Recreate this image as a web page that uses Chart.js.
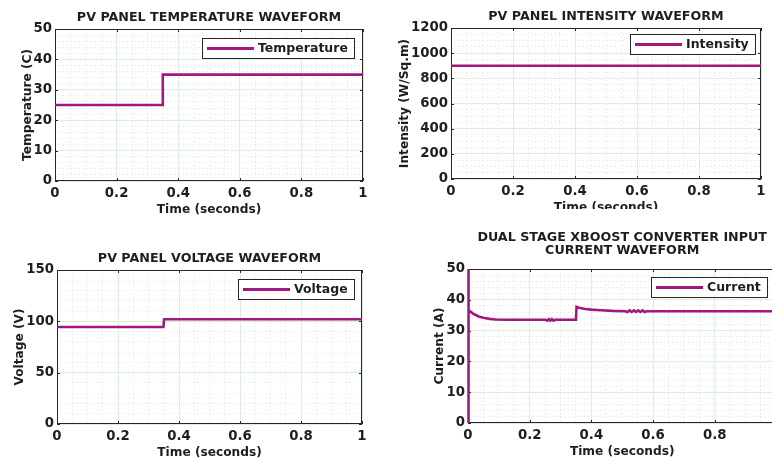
<!DOCTYPE html>
<html>
<head>
<meta charset="utf-8">
<script src="https://cdn.jsdelivr.net/npm/chart.js@4"></script>
<style>
html,body{margin:0;padding:0;background:#fff;width:772px;height:462px;overflow:hidden}
.panel{position:absolute;overflow:hidden;background:#fff}
canvas{display:block}
</style>
</head>
<body>
<div class="panel" style="left:0;top:0;width:386px;height:231px"><canvas id="c1" width="386" height="231" style="width:386px;height:231px"></canvas></div>
<div class="panel" style="left:386px;top:0;width:386px;height:209px"><canvas id="c2" width="386" height="231" style="width:386px;height:231px"></canvas></div>
<div class="panel" style="left:0;top:231px;width:386px;height:231px"><canvas id="c3" width="386" height="231" style="width:386px;height:231px"></canvas></div>
<div class="panel" style="left:386px;top:231px;width:386px;height:231px"><canvas id="c4" width="400" height="231" style="width:400px;height:231px"></canvas></div>
<script>
// ---- data ----
const timeTicks = [0, 0.2, 0.4, 0.6, 0.8, 1];

const temperatureTime = [0, 0.35, 0.35, 1];
const temperatureValues = [25, 25, 35, 35];
const temperatureTicks = [0, 10, 20, 30, 40, 50];

const intensityTime = [0, 1];
const intensityValues = [900, 900];
const intensityTicks = [0, 200, 400, 600, 800, 1000, 1200];

const voltageTime = [0, 0.349, 0.351, 1];
const voltageValues = [94.5, 94.5, 102, 102];
const voltageTicks = [0, 50, 100, 150];

const currentTime = [0, 0.0005, 0.003, 0.01, 0.02, 0.035, 0.05, 0.07, 0.09, 0.12, 0.15, 0.2, 0.252,
  0.257, 0.262, 0.267, 0.272, 0.277, 0.282, 0.3, 0.35, 0.352, 0.36, 0.38, 0.4, 0.43, 0.47, 0.51,
  0.517, 0.524, 0.531, 0.538, 0.545, 0.552, 0.559, 0.566, 0.573, 0.58, 0.65, 0.8, 1];
const currentValues = [0, 60, 36.6, 36.0, 35.3, 34.6, 34.2, 33.8, 33.6, 33.5, 33.5, 33.5, 33.5,
  33.25, 33.75, 33.25, 33.75, 33.25, 33.5, 33.5, 33.5, 37.7, 37.4, 37.0, 36.8, 36.6, 36.4, 36.3,
  36.05, 36.55, 36.05, 36.55, 36.05, 36.55, 36.05, 36.55, 36.05, 36.3, 36.3, 36.3, 36.3];
const currentTicks = [0, 10, 20, 30, 40, 50];

// ---- styling ----
const FONT = '"DejaVu Sans", sans-serif';
const TEXT = '#1e1e1e';
const AXIS = '#262626';
const LINE = '#a0197f';
const MAJOR = '#dcefdc';
const MINOR = '#e4e4e4';

const framePlugin = {
  id: 'frame',
  beforeDatasetsDraw(chart) {
    const {ctx, chartArea: a, scales} = chart;
    ctx.save();
    ctx.strokeStyle = AXIS;
    ctx.lineWidth = 1;
    ctx.strokeRect(a.left + 0.5, a.top + 0.5, a.right - a.left - 1, a.bottom - a.top - 1);
    ctx.beginPath();
    scales.x.ticks.forEach(t => {
      const p = Math.round(scales.x.getPixelForValue(t.value)) + 0.5;
      ctx.moveTo(p, a.bottom); ctx.lineTo(p, a.bottom - 3);
      ctx.moveTo(p, a.top); ctx.lineTo(p, a.top + 3);
    });
    scales.y.ticks.forEach(t => {
      const p = Math.round(scales.y.getPixelForValue(t.value)) + 0.5;
      ctx.moveTo(a.left, p); ctx.lineTo(a.left + 3, p);
      ctx.moveTo(a.right, p); ctx.lineTo(a.right - 3, p);
    });
    ctx.stroke();
    ctx.restore();
  }
};

const boxLegend = {
  id: 'boxLegend',
  afterDraw(chart, args, opts) {
    const {ctx, chartArea: a} = chart;
    const ds = chart.data.datasets[0];
    ctx.save();
    ctx.font = 'bold 12.5px ' + FONT;
    const tw = ctx.measureText(ds.label).width;
    const lineLen = 47, h = 20;
    const w = Math.round(5 + lineLen + 4 + tw + 6);
    const right = Math.round(a.right - opts.gapRight);
    const top = Math.round(a.top + opts.gapTop);
    const left = right - w;
    ctx.fillStyle = '#fff';
    ctx.fillRect(left, top, w, h);
    ctx.strokeStyle = AXIS; ctx.lineWidth = 1;
    ctx.strokeRect(left + 0.5, top + 0.5, w, h);
    ctx.strokeStyle = ds.borderColor; ctx.lineWidth = 3;
    ctx.beginPath();
    ctx.moveTo(left + 5, top + h / 2 + 0.5);
    ctx.lineTo(left + 5 + lineLen, top + h / 2 + 0.5);
    ctx.stroke();
    ctx.fillStyle = TEXT;
    ctx.textBaseline = 'middle';
    ctx.textAlign = 'left';
    ctx.fillText(ds.label, left + 5 + lineLen + 4, top + h / 2 + 1);
    ctx.restore();
  }
};

function makeChart(id, c) {
  const W = c.W, H = 231;
  const titleLines = Array.isArray(c.title) ? c.title.length : 1;
  const titleLH = c.titleLH || 15;
  const titleTop = c.titleCenter - titleLH / 2;
  const titleBottom = c.area.top - titleTop - titleLines * titleLH;
  const majorY = c.yTicks;
  new Chart(document.getElementById(id), {
    type: 'line',
    data: {
      datasets: [{
        label: c.label,
        data: c.t.map((x, i) => ({x: x, y: c.v[i]})),
        borderColor: LINE,
        borderWidth: 2.6,
        pointRadius: 0,
        tension: 0,
        fill: false,
        clip: c.clip || 0
      }]
    },
    options: {
      responsive: false,
      animation: false,
      events: [],
      layout: {padding: {left: 0, top: 0, bottom: 0, right: W - c.area.right}},
      plugins: {
        legend: {display: false},
        tooltip: {enabled: false},
        title: {
          display: true, text: c.title, fullSize: false, color: TEXT,
          font: {family: FONT, size: 12.7, weight: 'bold', lineHeight: titleLH / 12.7},
          padding: {top: titleTop, bottom: titleBottom}
        },
        boxLegend: {gapTop: c.legGap[0], gapRight: c.legGap[1]}
      },
      scales: {
        x: {
          type: 'linear', position: 'bottom', min: 0, max: 1,
          afterBuildTicks: s => { s.ticks = timeTicks.map(v => ({value: v})); },
          afterFit: s => { s.height = H - c.area.bottom; },
          grid: {color: MAJOR, drawTicks: false, lineWidth: 1},
          border: {display: false},
          ticks: {padding: 5, color: TEXT, autoSkip: false, maxRotation: 0,
            font: {family: FONT, size: 13.3, weight: 'bold'}, callback: v => String(v)},
          title: {display: true, text: 'Time (seconds)', color: TEXT,
            font: {family: FONT, size: 12.2, weight: 'bold', lineHeight: 1.2},
            padding: {top: 0, bottom: H - (c.area.bottom + 28.5) - 7.3}}
        },
        y: {
          type: 'linear', position: 'left', min: majorY[0], max: majorY[majorY.length - 1],
          afterBuildTicks: s => { s.ticks = majorY.map(v => ({value: v})); },
          afterFit: s => { s.width = c.area.left; },
          grid: {color: MAJOR, drawTicks: false, lineWidth: 1},
          border: {display: false},
          ticks: {padding: 3, color: TEXT, autoSkip: false,
            font: {family: FONT, size: 13.3, weight: 'bold'}, callback: v => String(v)},
          title: {display: true, text: c.yTitle, color: TEXT,
            font: {family: FONT, size: 12.2, weight: 'bold', lineHeight: 1.2},
            padding: {top: c.yTitleX - 7.3, bottom: 0}}
        },
        xm: {
          type: 'linear', position: 'bottom', min: 0, max: 1,
          afterFit: s => { s.height = 0; },
          ticks: {display: false, stepSize: 0.05, maxTicksLimit: 200, autoSkip: false},
          grid: {drawTicks: false, lineWidth: 1,
            color: ctx => timeTicks.some(v => Math.abs(v - ctx.tick.value) < 1e-6) ? 'rgba(0,0,0,0)' : MINOR},
          border: {display: false, dash: [1, 3]}
        },
        ym: {
          type: 'linear', position: 'left', min: majorY[0], max: majorY[majorY.length - 1],
          afterFit: s => { s.width = 0; },
          ticks: {display: false, stepSize: c.yMinor, maxTicksLimit: 200, autoSkip: false},
          grid: {drawTicks: false, lineWidth: 1,
            color: ctx => majorY.some(v => Math.abs(v - ctx.tick.value) < 1e-6) ? 'rgba(0,0,0,0)' : MINOR},
          border: {display: false, dash: [1, 3]}
        }
      }
    },
    plugins: [framePlugin, boxLegend]
  });
}

makeChart('c1', {
  W: 386, area: {left: 55, right: 363, top: 29, bottom: 181},
  title: 'PV PANEL TEMPERATURE WAVEFORM', titleCenter: 18,
  label: 'Temperature', t: temperatureTime, v: temperatureValues,
  yTicks: temperatureTicks, yMinor: 2, yTitle: 'Temperature (C)', yTitleX: 28,
  legGap: [9, 9]
});
makeChart('c2', {
  W: 386, area: {left: 65, right: 375, top: 28, bottom: 179},
  title: 'PV PANEL INTENSITY WAVEFORM', titleCenter: 17,
  label: 'Intensity', t: intensityTime, v: intensityValues,
  yTicks: intensityTicks, yMinor: 50, yTitle: 'Intensity (W/Sq.m)', yTitleX: 18.5,
  legGap: [6, 6]
});
makeChart('c3', {
  W: 386, area: {left: 57, right: 362, top: 39, bottom: 193},
  title: 'PV PANEL VOLTAGE WAVEFORM', titleCenter: 28,
  label: 'Voltage', t: voltageTime, v: voltageValues,
  yTicks: voltageTicks, yMinor: 10, yTitle: 'Voltage (V)', yTitleX: 19.5,
  legGap: [9, 8]
});
makeChart('c4', {
  W: 400, area: {left: 82, right: 391, top: 38, bottom: 192},
  title: ['DUAL STAGE XBOOST CONVERTER INPUT', 'CURRENT WAVEFORM'], titleCenter: 7, titleLH: 13,
  label: 'Current', t: currentTime, v: currentValues,
  yTicks: currentTicks, yMinor: 2, yTitle: 'Current (A)', yTitleX: 53.5,
  legGap: [8, 9], clip: {left: 2, top: 0, right: 0, bottom: 0}
});
</script>
</body>
</html>
